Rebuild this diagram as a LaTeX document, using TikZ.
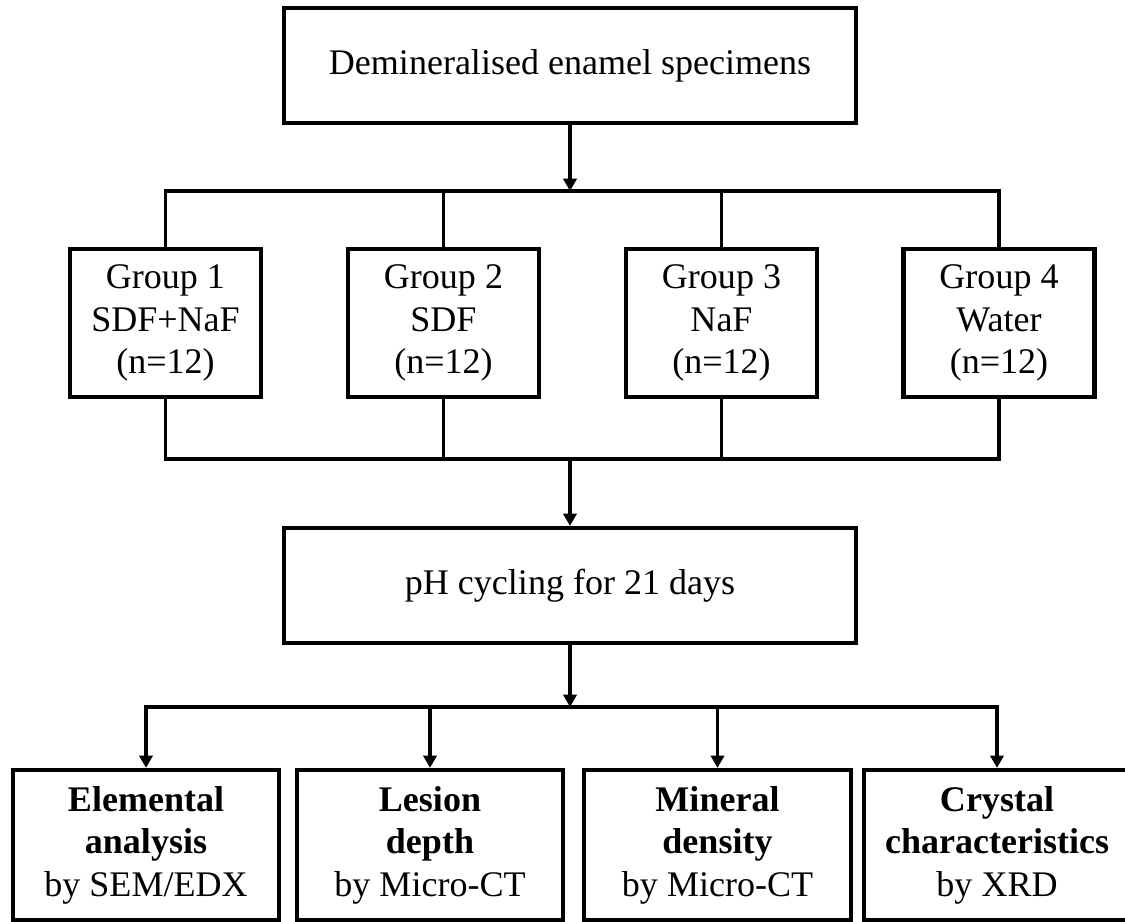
\documentclass[tikz,border=0pt]{standalone}
\usepackage{fontspec}
\setmainfont{Liberation Serif}
\usetikzlibrary{arrows.meta}
\tikzset{
  box/.style={draw, line width=2.4pt, align=center, inner sep=0pt,
    font=\fontsize{20.5}{24.2}\selectfont},
  wide/.style={box, minimum width=11.44cm, minimum height=2.3cm},
  group/.style={box, minimum width=3.82cm, minimum height=2.96cm},
  result/.style={box, minimum width=5.33cm, minimum height=3cm},
  link/.style={line width=2pt},
  feed/.style={line width=2pt, -{Triangle[length=7pt,width=7.5pt]}},
  feeds/.style={line width=2pt, {Triangle[length=7pt,width=7.5pt]}-{Triangle[length=7pt,width=7.5pt]}}
}
\begin{document}
\begin{tikzpicture}[x=0.02cm,y=-0.02cm]
\useasboundingbox (0,0) rectangle (1125,922);
   \node[wide] at (570,65.5) (spec) {Demineralised enamel specimens};

   \node[group] at (165.5,323) (g1) {Group 1\\SDF+NaF\\(n=12)};
   \node[group] at (443.5,323) (g2) {Group 2\\SDF\\(n=12)};
   \node[group] at (721.5,323) (g3) {Group 3\\NaF\\(n=12)};
   \node[group] at (999,323) (g4) {Group 4\\Water\\(n=12)};

   \node[wide] at (570,585.5) (ph) {pH cycling for 21 days};

   \node[result] at (146,845) (r1) {\textbf{Elemental}\\\textbf{analysis}\\by SEM/EDX};
   \node[result] at (430,845) (r2) {\textbf{Lesion}\\\textbf{depth}\\by Micro-CT};
   \node[result] at (717.5,845) (r3) {\textbf{Mineral}\\\textbf{density}\\by Micro-CT};
   \node[result] at (997,845) (r4) {\textbf{Crystal}\\\textbf{characteristics}\\by XRD};

   \coordinate (split) at (570,191);
   \coordinate (join) at (570,459);
   \coordinate (fork) at (570,707);

   \draw[feed] (spec) -- (split);
   \draw[link] (g1.north) |- (split) -| (g4.north);
   \draw[link] (split -| g2) -- (g2.north);
   \draw[link] (split -| g3) -- (g3.north);

   \draw[link] (g1.south) |- (join) -| (g4.south);
   \draw[link] (g2.south) -- (join -| g2);
   \draw[link] (g3.south) -- (join -| g3);
   \draw[feed] (join) -- (ph);

   \draw[feed] (ph) -- (fork);
   \draw[feeds] (r1.north) |- (fork) -| (r4.north);
   \draw[feed] (fork -| r2) -- (r2.north);
   \draw[feed] (fork -| r3) -- (r3.north);
\end{tikzpicture}
\end{document}
